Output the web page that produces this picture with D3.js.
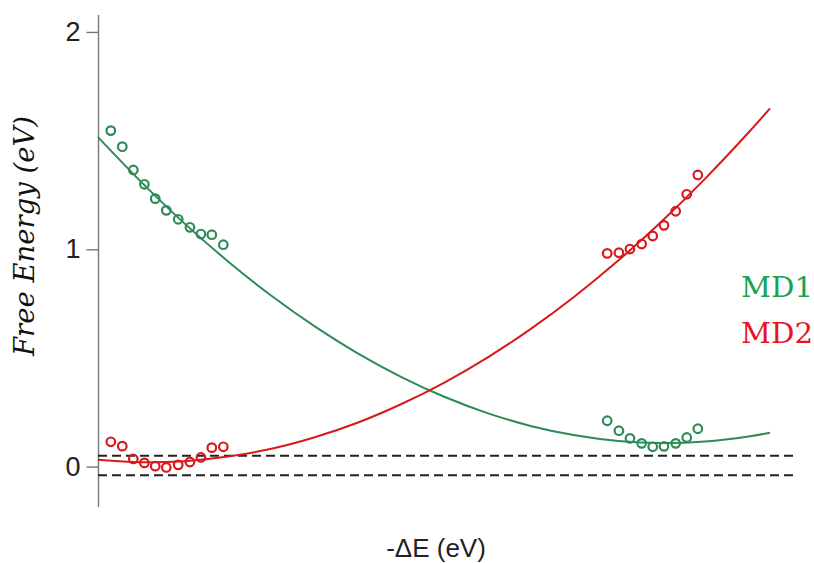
<!DOCTYPE html>
<html><head><meta charset="utf-8">
<script src="https://cdn.jsdelivr.net/npm/d3@7"></script>
<style>body{margin:0;background:#fff}svg{display:block}</style>
</head><body><svg id="c" width="814" height="563"></svg>
<script>
// ---- data ----
const yTicks = [0, 1, 2];
const yTickLabels = ["0", "1", "2"];
const dashedLevels = [0.05, -0.04];
const seriesNames = ["MD1", "MD2"];

// fitted curves (sampled)
const curveX   = [0, 0.2, 0.4, 0.6, 0.8, 1.0, 1.2, 1.4, 1.6, 1.8, 2.0, 2.2, 2.4, 2.6, 2.8, 3.0, 3.1];
const curveMD1 = [1.516, 1.309, 1.118, 0.944, 0.786, 0.645, 0.520, 0.412, 0.320, 0.245, 0.186, 0.144, 0.118, 0.108, 0.115, 0.138, 0.156];
const curveMD2 = [0.031, 0.020, 0.025, 0.046, 0.082, 0.135, 0.203, 0.288, 0.388, 0.504, 0.636, 0.784, 0.948, 1.128, 1.324, 1.536, 1.648];

// MD points, left cluster
const leftX     = [0.059, 0.112, 0.163, 0.214, 0.264, 0.315, 0.370, 0.424, 0.475, 0.525, 0.578];
const md1LeftY  = [1.546, 1.472, 1.365, 1.299, 1.233, 1.179, 1.138, 1.101, 1.070, 1.067, 1.021];
const md2LeftY  = [0.114, 0.094, 0.035, 0.017, 0.002, -0.004, 0.008, 0.021, 0.042, 0.087, 0.091];
// MD points, right cluster
const rightX    = [2.349, 2.403, 2.454, 2.508, 2.559, 2.611, 2.665, 2.716, 2.767];
const md1RightY = [0.211, 0.165, 0.130, 0.107, 0.091, 0.093, 0.107, 0.134, 0.174];
const md2RightY = [0.981, 0.984, 1.001, 1.024, 1.061, 1.110, 1.175, 1.253, 1.342];

// ---- drawing ----
const svg = d3.select("#c");
const green = "#2e8b57", red = "#d7191c";
const legendColors = ["#17a34f", "#e8141b"];

const x = d3.scaleLinear().domain([0, 3.1]).range([98, 770]);
const y = d3.scaleLinear().domain([-0.186, 2.078]).range([507, 15]);

// y axis
const yAxis = d3.axisLeft(y).tickValues(yTicks).tickFormat((d, i) => yTickLabels[i])
  .tickSize(12).tickPadding(6);
const ga = svg.append("g").attr("transform", "translate(98.5,0)").call(yAxis);
ga.select(".domain").attr("stroke", "#777").attr("stroke-width", 1.4).attr("d", "M0,15V507");
ga.selectAll(".tick line").attr("stroke", "#777").attr("stroke-width", 1.4);
ga.selectAll(".tick text").attr("font-family", "Liberation Sans, Arial, sans-serif")
  .attr("font-size", 27).attr("fill", "#222");

// dashed lines
svg.selectAll(".dash").data(dashedLevels).enter().append("line")
  .attr("x1", 98).attr("x2", 798)
  .attr("y1", d => y(d)).attr("y2", d => y(d))
  .attr("stroke", "#222").attr("stroke-width", 2).attr("stroke-dasharray", "9,5");

// curves
const line = d3.line().x(d => x(d[0])).y(d => y(d[1])).curve(d3.curveCatmullRom);
svg.append("path").datum(curveX.map((v, i) => [v, curveMD1[i]]))
  .attr("d", line).attr("fill", "none").attr("stroke", green).attr("stroke-width", 2);
svg.append("path").datum(curveX.map((v, i) => [v, curveMD2[i]]))
  .attr("d", line).attr("fill", "none").attr("stroke", red).attr("stroke-width", 2);

// points
function pts(xs, ys, col) {
  svg.append("g").selectAll("circle").data(xs.map((v, i) => [v, ys[i]])).enter()
    .append("circle").attr("cx", d => x(d[0])).attr("cy", d => y(d[1])).attr("r", 4.3)
    .attr("fill", "none").attr("stroke", col).attr("stroke-width", 2.2);
}
pts(leftX, md1LeftY, green);
pts(rightX, md1RightY, green);
pts(leftX, md2LeftY, red);
pts(rightX, md2RightY, red);

// legend
svg.selectAll(".leg").data(seriesNames).enter().append("text")
  .attr("x", 741).attr("y", (d, i) => 297 + i * 46)
  .attr("font-family", "DejaVu Serif, serif").attr("font-size", 27)
  .attr("textLength", 72).attr("lengthAdjust", "spacingAndGlyphs")
  .attr("fill", (d, i) => legendColors[i]).text(d => d);

// axis titles
svg.append("text").attr("x", 436).attr("y", 557).attr("text-anchor", "middle")
  .attr("font-family", "Liberation Sans, Arial, sans-serif").attr("font-size", 26).attr("fill", "#222")
  .text("-ΔE (eV)");
svg.append("text").attr("transform", "translate(34,236) rotate(-90)").attr("text-anchor", "middle")
  .attr("font-family", "DejaVu Serif, serif").attr("font-style", "italic").attr("font-size", 28)
  .attr("textLength", 240).attr("lengthAdjust", "spacingAndGlyphs")
  .attr("fill", "#111").text("Free Energy (eV)");
</script></body></html>
